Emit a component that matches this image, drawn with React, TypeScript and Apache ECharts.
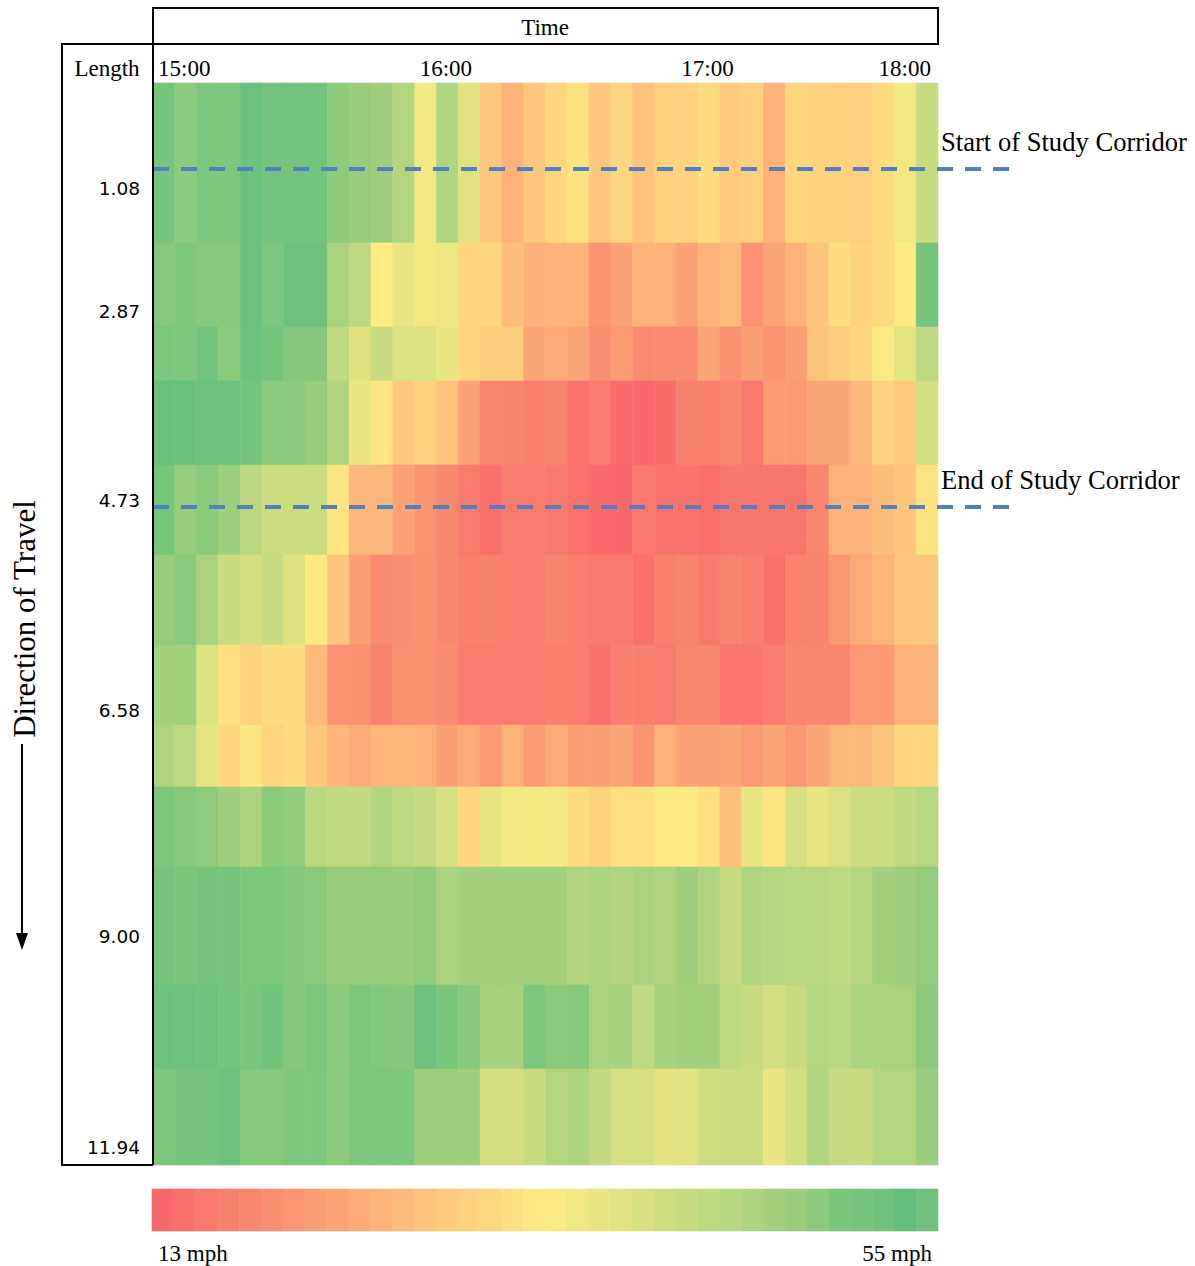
import React, { useEffect, useRef } from 'react';
import * as echarts from 'echarts';

// Hour labels along the top; each hour is split into twelve 5-minute slots
const hourLabels = ['15:00', '16:00', '17:00', '18:00'];
const slotsPerHour = 12;
const slotCount = 36;

// Segment boundaries down the corridor, in display units from the top edge
const rowEdges = [0, 160, 244, 298, 382, 472, 562, 642, 704, 784, 902, 986, 1082];

// Cumulative length (miles) labels and where they sit on that scale
const lengthLabels = ['1.08', '2.87', '4.73', '6.58', '9.00', '11.94'];
const lengthLabelPos = [105, 228, 417, 627, 853, 1064];

// Study corridor limits
const corridorNames = ['Start of Study Corridor', 'End of Study Corridor'];
const corridorPos = [86, 424];

// Colour scale limits (mph)
const speedMin = 13;
const speedMax = 55;

// Average speed (mph) in each 5-minute slot, one array per segment
const seg01 = [52.3, 49.2, 51.4, 51.1, 53.8, 52.6, 52.6, 52.6, 49.2, 47.9, 46.9, 44.4, 35.6, 44.6, 38.0, 28.3, 24.8, 28.3, 30.6, 32.5, 28.3, 30.4, 27.4, 29.8, 30.0, 31.4, 28.7, 29.5, 24.8, 30.6, 30.1, 29.8, 29.5, 31.4, 35.6, 41.5];
const seg02 = [50.3, 51.2, 50.3, 50.2, 53.8, 51.5, 53.5, 53.5, 45.4, 43.0, 34.0, 37.1, 35.3, 36.4, 30.6, 30.6, 26.4, 24.5, 24.8, 24.8, 19.9, 22.2, 24.6, 24.6, 22.0, 24.6, 25.9, 19.6, 22.9, 24.6, 27.7, 31.6, 30.0, 31.4, 33.8, 52.3];
const seg03 = [51.5, 51.1, 52.6, 49.6, 53.1, 52.2, 50.6, 50.6, 42.6, 38.2, 41.4, 38.7, 38.7, 36.7, 30.6, 29.2, 29.2, 22.9, 23.7, 22.9, 19.0, 21.2, 18.5, 18.5, 18.5, 22.9, 19.5, 21.7, 19.9, 21.7, 27.5, 29.2, 30.6, 33.8, 37.5, 42.9];
const seg04 = [54.2, 54.2, 53.8, 53.5, 52.4, 49.2, 49.2, 47.7, 44.9, 36.7, 32.9, 28.3, 30.0, 27.4, 22.2, 17.5, 17.4, 16.7, 17.4, 14.5, 16.1, 13.6, 13.0, 13.6, 16.7, 16.7, 17.5, 15.3, 21.2, 21.2, 22.9, 22.9, 25.8, 30.0, 28.5, 39.8];
const seg05 = [51.9, 48.3, 49.6, 47.3, 43.3, 41.0, 41.0, 41.0, 32.9, 25.3, 25.3, 22.2, 20.1, 18.0, 15.9, 14.0, 15.9, 15.9, 15.4, 14.5, 13.2, 13.0, 15.3, 14.5, 14.5, 13.8, 15.1, 15.1, 15.1, 15.1, 17.5, 24.8, 24.8, 26.7, 27.7, 32.5];
const seg06 = [48.3, 49.6, 45.4, 41.5, 39.7, 41.5, 38.2, 33.7, 27.7, 21.7, 18.5, 19.0, 19.5, 18.0, 16.7, 16.7, 16.1, 16.1, 17.4, 16.2, 15.4, 15.4, 14.0, 16.6, 17.0, 15.4, 17.0, 16.1, 14.1, 17.0, 17.0, 20.6, 23.5, 25.1, 28.0, 28.0];
const seg07 = [46.1, 46.7, 38.7, 32.1, 30.0, 31.6, 31.6, 26.2, 19.8, 19.5, 17.0, 19.1, 19.1, 18.5, 16.1, 16.1, 15.7, 15.7, 16.6, 16.1, 14.0, 16.6, 16.6, 15.7, 17.5, 17.5, 14.9, 14.9, 16.1, 17.5, 17.5, 17.5, 20.9, 20.9, 24.6, 24.6];
const seg08 = [44.9, 43.0, 37.1, 30.6, 32.9, 30.6, 31.6, 28.0, 25.1, 23.7, 25.1, 25.1, 24.6, 21.7, 23.5, 20.9, 24.6, 21.2, 23.5, 21.7, 21.7, 22.9, 19.8, 24.6, 22.2, 22.2, 22.9, 21.1, 22.9, 20.6, 22.9, 25.8, 25.8, 27.7, 30.6, 30.6];
const seg09 = [51.5, 50.3, 49.1, 46.8, 45.2, 49.6, 48.8, 43.3, 42.3, 42.3, 44.6, 42.9, 41.8, 39.5, 30.6, 37.1, 35.6, 35.2, 35.6, 31.4, 29.8, 32.1, 32.1, 34.5, 33.7, 32.1, 26.9, 37.0, 32.9, 39.5, 37.0, 38.8, 41.0, 41.0, 42.3, 43.8];
const seg10 = [52.2, 51.8, 52.2, 52.2, 51.2, 51.2, 50.6, 49.6, 48.3, 48.3, 48.3, 47.6, 48.8, 45.4, 46.5, 46.5, 46.5, 46.5, 46.1, 44.6, 45.2, 44.6, 45.4, 44.9, 47.2, 44.9, 41.7, 44.6, 44.2, 43.6, 43.6, 42.6, 44.2, 46.7, 46.9, 48.4];
const seg11 = [53.8, 53.8, 53.2, 52.3, 51.8, 52.7, 50.6, 51.5, 49.2, 51.4, 50.7, 50.4, 53.5, 51.8, 49.9, 45.8, 45.8, 51.5, 49.6, 50.3, 45.4, 45.8, 42.6, 45.8, 46.7, 46.7, 42.6, 41.4, 39.8, 41.4, 44.2, 43.6, 45.4, 45.4, 45.4, 49.6];
const seg12 = [51.5, 52.2, 52.2, 53.4, 50.3, 50.3, 51.1, 51.1, 49.2, 51.2, 51.2, 51.2, 47.2, 47.2, 47.2, 39.7, 39.7, 41.3, 44.1, 45.2, 42.3, 39.5, 39.5, 37.6, 38.0, 40.5, 41.0, 41.0, 36.7, 39.8, 44.6, 41.8, 41.3, 44.2, 44.2, 47.7];

// Speeds shown by the swatches of the colour key
const scaleSteps = [13.0, 14.2, 15.4, 16.6, 17.8, 19.0, 20.2, 21.4, 22.6, 23.8, 25.0, 26.2, 27.4, 28.6, 29.8, 31.0, 32.2, 33.4, 34.4, 35.6, 36.8, 38.0, 39.2, 40.4, 41.6, 42.8, 44.0, 45.2, 46.4, 47.6, 49.2, 51.6, 52.2, 53.0, 55.0, 53.4];

const segments = [seg01, seg02, seg03, seg04, seg05, seg06, seg07, seg08, seg09, seg10, seg11, seg12];

const SERIF = 'Liberation Serif';

export default function App() {
  const ref = useRef<HTMLDivElement>(null);

  useEffect(() => {
    if (!ref.current) return;
    const chart = echarts.init(ref.current, undefined, { renderer: 'svg' });

    const cellData: number[][] = [];
    segments.forEach((row, r) => {
      row.forEach((v, c) => cellData.push([c, r, v]));
    });
    const scaleData = scaleSteps.map((v, k) => [k, 0, v]);
    const corridorData = corridorPos.map((p, i) => [slotCount, p, i]);

    const option: any = {
      animation: false,
      grid: [
        { left: 153, top: 83, width: 785, height: 1082 },
        { left: 152, top: 1189, width: 786, height: 42 },
      ],
      xAxis: [
        {
          gridIndex: 0,
          type: 'value',
          position: 'top',
          min: 0,
          max: slotCount,
          interval: slotsPerHour,
          axisLine: { show: false },
          axisTick: { show: false },
          splitLine: { show: false },
          axisLabel: {
            formatter: (v: number) => hourLabels[Math.round(v / slotsPerHour)],
            fontFamily: SERIF,
            fontSize: 23,
            color: '#000',
            align: 'left',
            alignMaxLabel: 'right',
            padding: [0, 7, 0, 5],
            margin: 3,
            showMinLabel: true,
            showMaxLabel: true,
          },
        },
        {
          gridIndex: 1,
          type: 'value',
          position: 'bottom',
          min: 0,
          max: slotCount,
          interval: slotCount,
          axisLine: { show: false },
          axisTick: { show: false },
          splitLine: { show: false },
          axisLabel: {
            formatter: (v: number) => (v === 0 ? `${speedMin} mph` : `${speedMax} mph`),
            fontFamily: SERIF,
            fontSize: 23,
            color: '#000',
            align: 'left',
            alignMaxLabel: 'right',
            padding: [0, 6, 0, 6],
            margin: 11,
            showMinLabel: true,
            showMaxLabel: true,
          },
        },
      ],
      yAxis: [
        {
          gridIndex: 0,
          type: 'value',
          inverse: true,
          min: 0,
          max: rowEdges[rowEdges.length - 1],
          axisLine: { show: false },
          axisTick: { show: false },
          splitLine: { show: false },
          axisLabel: {
            customValues: lengthLabelPos,
            formatter: (v: number) => lengthLabels[lengthLabelPos.indexOf(v)] ?? '',
            fontFamily: 'DejaVu Sans',
            fontSize: 18.5,
            color: '#000',
            margin: 13,
          },
        },
        {
          gridIndex: 1,
          type: 'value',
          min: 0,
          max: 1,
          show: false,
        },
      ],
      visualMap: {
        show: false,
        type: 'continuous',
        min: speedMin,
        max: speedMax,
        dimension: 2,
        seriesIndex: [0, 1],
        inRange: { color: ['#F8696B', '#FFEB84', '#63BE7B'] },
      },
      series: [
        {
          type: 'custom',
          xAxisIndex: 0,
          yAxisIndex: 0,
          data: cellData,
          encode: { x: 0, y: 1 },
          renderItem: (_p: any, api: any) => {
            const c = api.value(0);
            const r = api.value(1);
            const p0 = api.coord([c, rowEdges[r]]);
            const p1 = api.coord([c + 1, rowEdges[r + 1]]);
            const color = api.visual('color');
            return {
              type: 'rect',
              shape: { x: p0[0], y: p0[1], width: p1[0] - p0[0], height: p1[1] - p0[1] },
              style: { fill: color, stroke: color, lineWidth: 0.6 },
            };
          },
        },
        {
          type: 'custom',
          xAxisIndex: 1,
          yAxisIndex: 1,
          data: scaleData,
          encode: { x: 0, y: 1 },
          renderItem: (_p: any, api: any) => {
            const k = api.value(0);
            const p0 = api.coord([k, 1]);
            const p1 = api.coord([k + 1, 0]);
            const color = api.visual('color');
            return {
              type: 'rect',
              shape: { x: p0[0], y: p0[1], width: p1[0] - p0[0], height: p1[1] - p0[1] },
              style: { fill: color, stroke: color, lineWidth: 0.6 },
            };
          },
        },
        {
          type: 'custom',
          xAxisIndex: 0,
          yAxisIndex: 0,
          data: corridorData,
          encode: { x: 0, y: 1 },
          clip: false,
          z: 5,
          renderItem: (_p: any, api: any) => {
            const y = api.value(1);
            const i = api.value(2);
            const left = api.coord([0, y]);
            const right = api.coord([slotCount, y]);
            return {
              type: 'group',
              children: [
                {
                  type: 'line',
                  shape: { x1: left[0], y1: left[1], x2: right[0] + 71, y2: right[1] },
                  style: { stroke: '#4F81BD', lineWidth: 4, lineDash: [16, 12] },
                },
                {
                  type: 'text',
                  x: right[0] + 3,
                  y: right[1] - 27,
                  style: {
                    text: corridorNames[i],
                    fontFamily: SERIF,
                    fontSize: 26.6,
                    fill: '#000',
                    align: 'left',
                    verticalAlign: 'middle',
                  },
                },
              ],
            };
          },
        },
      ],
      graphic: [
        {
          type: 'rect',
          z: 10,
          shape: { x: 153, y: 8, width: 785, height: 36 },
          style: { fill: 'none', stroke: '#000', lineWidth: 2 },
        },
        {
          type: 'polyline',
          z: 10,
          shape: { points: [[153, 44], [62, 44], [62, 1165], [153, 1165]] },
          style: { fill: 'none', stroke: '#000', lineWidth: 2 },
        },
        {
          type: 'line',
          z: 10,
          shape: { x1: 153, y1: 8, x2: 153, y2: 1165 },
          style: { stroke: '#000', lineWidth: 2 },
        },
        {
          type: 'text',
          z: 10,
          x: 545,
          y: 27,
          style: { text: 'Time', fontFamily: SERIF, fontSize: 23, fill: '#000', align: 'center', verticalAlign: 'middle' },
        },
        {
          type: 'text',
          z: 10,
          x: 107,
          y: 68,
          style: { text: 'Length', fontFamily: SERIF, fontSize: 23, fill: '#000', align: 'center', verticalAlign: 'middle' },
        },
        {
          type: 'text',
          z: 10,
          x: 24,
          y: 619,
          rotation: Math.PI / 2,
          style: { text: 'Direction of Travel', fontFamily: SERIF, fontSize: 31, fill: '#000', align: 'center', verticalAlign: 'middle' },
        },
        {
          type: 'line',
          z: 10,
          shape: { x1: 22, y1: 744, x2: 22, y2: 936 },
          style: { stroke: '#000', lineWidth: 2 },
        },
        {
          type: 'polygon',
          z: 10,
          shape: { points: [[16, 933], [28, 933], [22, 950]] },
          style: { fill: '#000' },
        },
      ],
    };

    chart.setOption(option);
    return () => chart.dispose();
  }, []);

  return (
    <div
      ref={ref}
      style={{ position: 'absolute', left: 0, top: 0, width: 1195, height: 1266 }}
    />
  );
}
